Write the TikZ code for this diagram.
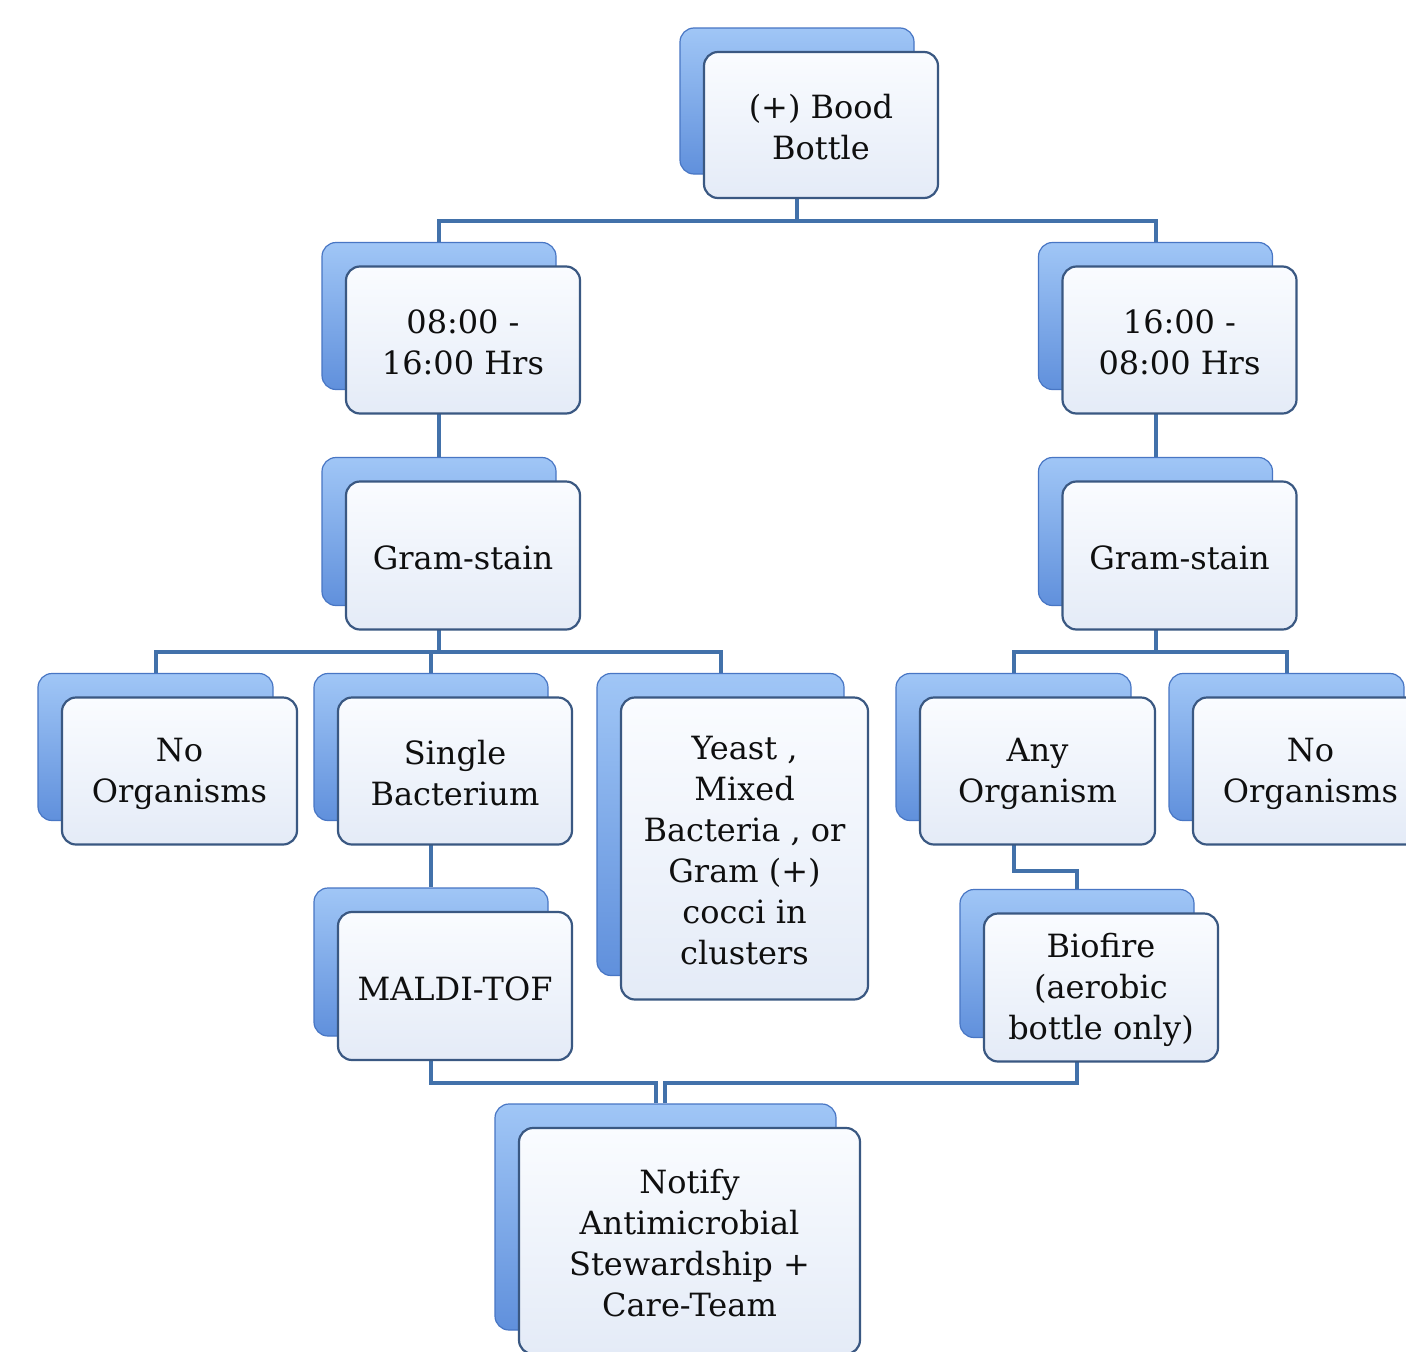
\documentclass[tikz,border=0pt]{standalone}
\usepackage{fontspec}
\setmainfont{DejaVu Serif}
\pgfdeclarelayer{background}
\pgfsetlayers{background,main}
\definecolor{linec}{RGB}{66,113,170}
\definecolor{backtop}{RGB}{160,198,246}
\definecolor{backbot}{RGB}{96,144,220}
\definecolor{backdraw}{RGB}{72,118,196}
\definecolor{fronttop}{RGB}{250,252,255}
\definecolor{frontbot}{RGB}{228,235,247}
\definecolor{frontdraw}{RGB}{58,88,130}
\definecolor{txt}{RGB}{15,15,15}
\tikzset{
  conn/.style={draw=linec, line width=4pt},
  backbox/.style={rectangle, rounded corners=14pt, draw=backdraw, line width=1.2pt,
    top color=backtop, bottom color=backbot, inner sep=0pt},
  frontbox/.style={rectangle, rounded corners=14pt, draw=frontdraw, line width=2.2pt,
    top color=fronttop, bottom color=frontbot, inner sep=0pt},
  boxtext/.style={align=center, inner sep=0pt, text=txt, font=\fontsize{32}{41}\selectfont},
}
% #1 name, #2 #3 centre of the front box, #4 #5 size, #6 text
\newcommand\diabox[6]{%
  \node[backbox, minimum width=#4pt, minimum height=#5pt] (#1b) at (#2-24,#3-24) {};
  \node[frontbox, minimum width=#4pt, minimum height=#5pt] (#1) at (#2,#3) {};
  \node[boxtext] (#1t) at (#2,#3+2.5) {#6};
}
\begin{document}
\begin{tikzpicture}[x=1pt, y=-1pt]
\useasboundingbox (0,0) rectangle (1406,1352);
\clip (0,0) rectangle (1406,1352);
\diabox{top}{821}{125}{234}{146}{(+) Bood\\Bottle}
\diabox{ta}{463}{340}{234}{147}{08:00 -\\16:00 Hrs}
\diabox{tb}{1179.5}{340}{234}{147}{16:00 -\\08:00 Hrs}
\diabox{ga}{463}{555.5}{234}{148}{Gram-stain}
\diabox{gb}{1179.5}{555.5}{234}{148}{Gram-stain}
\diabox{noa}{179.5}{771}{235}{147}{No\\Organisms}
\diabox{sb}{455}{771}{234}{147}{Single\\Bacterium}
\diabox{ye}{744.5}{848.5}{247}{302}{Yeast ,\\Mixed\\Bacteria , or\\Gram (+)\\cocci in\\clusters}
\diabox{any}{1037.5}{771}{235}{147}{Any\\Organism}
\diabox{nob}{1310.5}{771}{235}{147}{No\\Organisms}
\diabox{mal}{455}{986}{234}{148}{MALDI-TOF}
\diabox{bio}{1101}{987.5}{234}{148}{Biofire\\(aerobic\\bottle only)}
\diabox{not}{689.5}{1241}{341}{226}{Notify\\Antimicrobial\\Stewardship +\\Care-Team}
\begin{pgfonlayer}{background}
\fill[white] (0,0) rectangle (1406,1352);
\draw[conn] (topb.south) -- ++(0,46) -| (tab.north);
\draw[conn] (topb.south) -- ++(0,46) -| (tbb.north);
\draw[conn] (tab.south) -- (gab.north);
\draw[conn] (tbb.south) -- (gbb.north);
\draw[conn] (gab.south) -- ++(0,46) -| (noab.north);
\draw[conn] (gab.south) -- ++(0,46) -| (sbb.north);
\draw[conn] (gab.south) -- ++(0,46) -| (yeb.north);
\draw[conn] (gbb.south) -- ++(0,46) -| (anyb.north);
\draw[conn] (gbb.south) -- ++(0,46) -| (nobb.north);
\draw[conn] (sbb.south) -- (malb.north);
\draw[conn] (anyb.south) -- ++(0,50) -| (biob.north);
\draw[conn] (malb.south) -- ++(0,46) -| ([xshift=-10pt]notb.north);
\draw[conn] (biob.south) -- ++(0,45) -| ([xshift=-1pt]notb.north);
\end{pgfonlayer}
\end{tikzpicture}
\end{document}
